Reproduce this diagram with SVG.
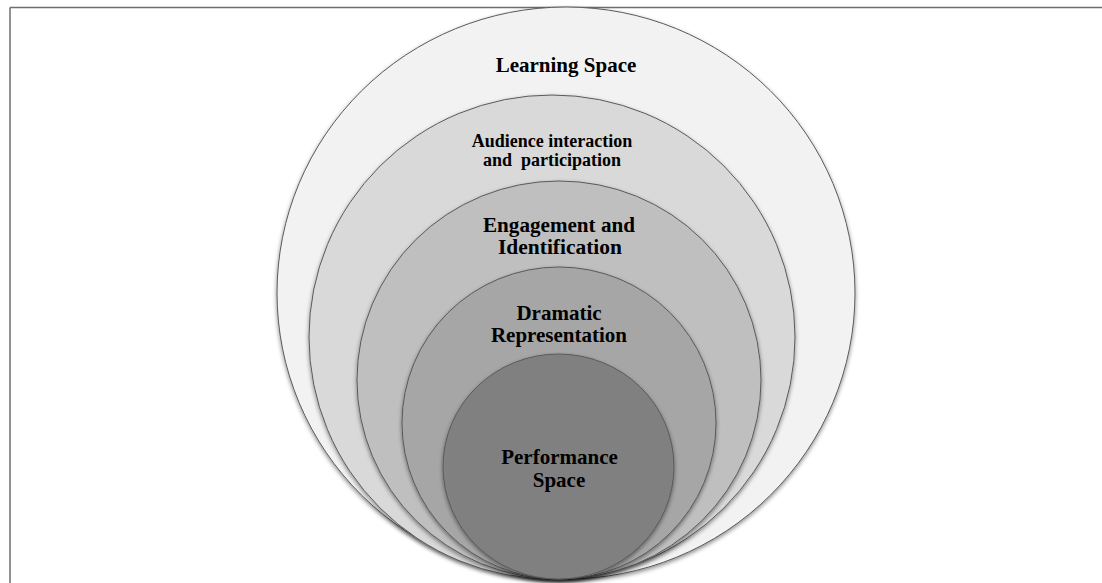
<svg xmlns="http://www.w3.org/2000/svg" width="1102" height="583" viewBox="0 0 1102 583">
<defs>
<filter id="sh" x="-10%" y="-10%" width="120%" height="125%">
<feDropShadow dx="0" dy="2" stdDeviation="2" flood-color="#000" flood-opacity="0.45"/>
</filter>
</defs>
<style>
.ring{stroke:#5a5a5a;stroke-width:1;filter:url(#sh)}
.lbl{font-family:"Liberation Serif","Times New Roman",serif;font-weight:bold;fill:#000;text-anchor:middle}
</style>
<rect width="1102" height="583" fill="#fff"/>
<g id="frame" stroke="#6e6e6e" stroke-width="1.5" fill="none">
<line x1="10" y1="7.5" x2="1102" y2="7.5"/>
<line x1="10" y1="7.5" x2="10" y2="583"/>
</g>
<g id="learning-space">
<ellipse class="ring" cx="566" cy="293" rx="289" ry="286" fill="#f2f2f2"/>
<text class="lbl" x="566" y="72" font-size="21">Learning Space</text>
</g>
<g id="audience">
<ellipse class="ring" cx="552" cy="337" rx="243" ry="242" fill="#d9d9d9"/>
<text class="lbl" x="552" y="147" font-size="18">Audience interaction</text>
<text class="lbl" x="552" y="166" font-size="18" xml:space="preserve">and  participation</text>
</g>
<g id="engagement">
<ellipse class="ring" cx="559" cy="380" rx="202" ry="199" fill="#bfbfbf"/>
<text class="lbl" x="559" y="232" font-size="20.5" textLength="152" lengthAdjust="spacingAndGlyphs">Engagement and</text>
<text class="lbl" x="560" y="254" font-size="20.5" textLength="124" lengthAdjust="spacingAndGlyphs">Identification</text>
</g>
<g id="dramatic">
<ellipse class="ring" cx="559" cy="423" rx="157" ry="156" fill="#a6a6a6"/>
<text class="lbl" x="559" y="320" font-size="21">Dramatic</text>
<text class="lbl" x="559" y="342" font-size="21">Representation</text>
</g>
<g id="performance">
<ellipse class="ring" cx="558.5" cy="466.5" rx="115.5" ry="112.5" fill="#808080"/>
<text class="lbl" x="559.5" y="464" font-size="21">Performance</text>
<text class="lbl" x="559" y="487" font-size="21">Space</text>
</g>
<g id="connectors"/>
</svg>
